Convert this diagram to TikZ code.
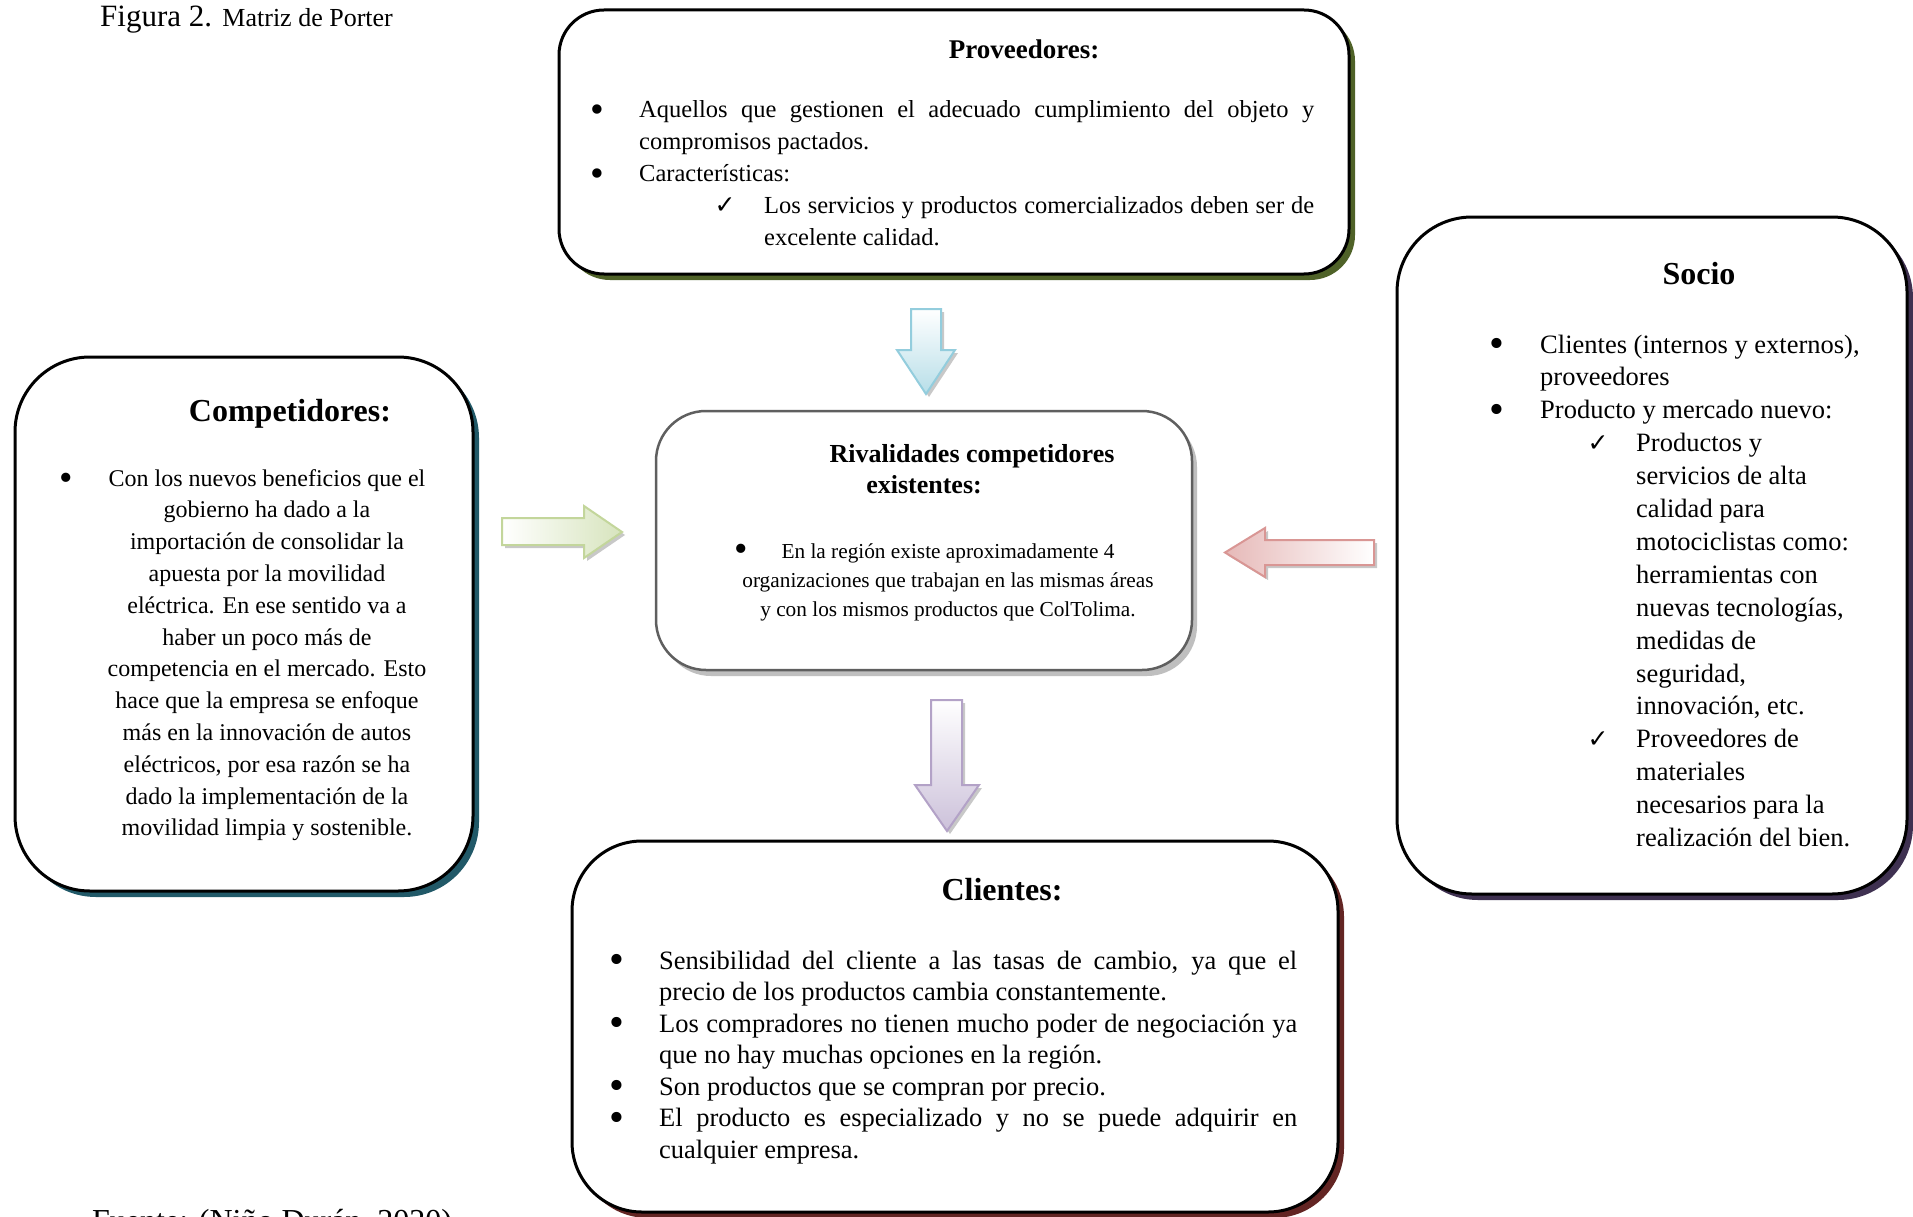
\documentclass[tikz,border=0pt]{standalone}
\usepackage{fontspec}
\setmainfont{Liberation Serif}
\newfontfamily\symfont{DejaVu Sans}
\usetikzlibrary{shadows}
\definecolor{shProv}{HTML}{4F6228}
\definecolor{shComp}{HTML}{215968}
\definecolor{shSocio}{HTML}{3F3151}
\definecolor{shRiv}{HTML}{BFBFBF}
\definecolor{shCli}{HTML}{632523}
\definecolor{bdRiv}{HTML}{5F5F5F}
\definecolor{arBlueL}{HTML}{93CDDD}
\definecolor{arBlueF}{HTML}{B7DEE8}
\definecolor{arGreenL}{HTML}{C3D69B}
\definecolor{arGreenF}{HTML}{D7E4BD}
\definecolor{arRedL}{HTML}{D99694}
\definecolor{arRedF}{HTML}{E6B9B8}
\definecolor{arPurpL}{HTML}{B3A2C7}
\definecolor{arPurpF}{HTML}{CCC1DA}
\definecolor{arSh}{HTML}{C8C8C8}
\newcommand\bigbul{\raisebox{-0.17em}{\scalebox{1.6}{\textbullet}}}
\newcommand\bl[1]{\leavevmode\llap{\makebox[0pt]{\smash{\bigbul}}\hspace{#1}}}
\newcommand\ck[1]{\leavevmode\llap{\makebox[0pt]{\symfont\fontsize{25pt}{25pt}\selectfont ✓}\hspace{#1}}}
\newcommand\jl[2]{\makebox[#1][s]{#2}}
\tikzset{
  outerbox/.style={draw=black, line width=3pt, fill=white, inner sep=0pt},
  shad/.style={general shadow={fill=#1, shadow xshift=6pt, shadow yshift=-6pt}},
  txt/.style={inner sep=0pt},
  arline/.style={line width=2pt},
}
\begin{document}
\begin{tikzpicture}[x=1pt,y=-1pt]
\useasboundingbox (0,0) rectangle (1913,1217);
\fill[white] (0,0) rectangle (1913,1217);

% caption
\node[txt, anchor=base west] (cap) at (100,27) {{\fontsize{31pt}{31pt}\selectfont Figura 2. }{\fontsize{26pt}{26pt}\selectfont Matriz de Porter}};

% boxes
\node[outerbox, shad=shProv, rounded corners=45pt, minimum width=790pt, minimum height=264pt] (prov) at (954,142) {};
\node[outerbox, shad=shComp, rounded corners=75pt, minimum width=458pt, minimum height=534pt] (comp) at (244,624) {};
\node[outerbox, shad=shSocio, rounded corners=75pt, minimum width=510pt, minimum height=677pt] (socio) at (1652,555.5) {};
\node[outerbox, draw=bdRiv, line width=2.5pt, general shadow={fill=shRiv, shadow xshift=5pt, shadow yshift=-6pt}, rounded corners=50pt, minimum width=536pt, minimum height=259pt] (riv) at (924,540.5) {};
\node[outerbox, shad=shCli, rounded corners=70pt, minimum width=766pt, minimum height=371pt] (cli) at (955,1026.5) {};

% arrows: shadows
\fill[arSh, shift={(3,3)}] (911,309) -- (941,309) -- (941,350) -- (955,350) -- (926,394) -- (897,350) -- (911,350) -- cycle;
\fill[arSh, shift={(3,3)}] (502,518) -- (584,518) -- (584,506) -- (622,532) -- (584,558) -- (584,545) -- (502,545) -- cycle;
\fill[arSh, shift={(3,3)}] (1374,540) -- (1265,540) -- (1265,528) -- (1225,552.5) -- (1265,577) -- (1265,565) -- (1374,565) -- cycle;
\fill[arSh, shift={(3,3)}] (931,700) -- (962,700) -- (962,785) -- (979,785) -- (947,831) -- (915,785) -- (931,785) -- cycle;
% arrows
\draw[arline, draw=arBlueL, top color=white, bottom color=arBlueF] (911,309) -- (941,309) -- (941,350) -- (955,350) -- (926,394) -- (897,350) -- (911,350) -- cycle;
\draw[arline, draw=arGreenL, left color=white, right color=arGreenF] (502,518) -- (584,518) -- (584,506) -- (622,532) -- (584,558) -- (584,545) -- (502,545) -- cycle;
\draw[arline, draw=arRedL, left color=arRedF, right color=white] (1374,540) -- (1265,540) -- (1265,528) -- (1225,552.5) -- (1265,577) -- (1265,565) -- (1374,565) -- cycle;
\draw[arline, draw=arPurpL, top color=white, bottom color=arPurpF] (931,700) -- (962,700) -- (962,785) -- (979,785) -- (947,831) -- (915,785) -- (931,785) -- cycle;

% Proveedores
\node[txt, anchor=base] (provtit) at (1024,59) {\fontsize{27pt}{27pt}\selectfont\bfseries Proveedores:};
\node[txt, anchor=base west] (provtxt) at (639,118) {\parbox[t]{675pt}{\fontsize{24.5pt}{32pt}\selectfont
\bl{42pt}\jl{675pt}{Aquellos que gestionen el adecuado cumplimiento del objeto y}\\
compromisos pactados.\\
\bl{42pt}Características:\\
\hspace*{125pt}\ck{39pt}\jl{550pt}{Los servicios y productos comercializados deben ser de}\\
\hspace*{125pt}excelente calidad.}};

% Competidores
\node[txt, anchor=base] (comptit) at (290,421) {\fontsize{32pt}{32pt}\selectfont\bfseries Competidores:};
\node[txt, anchor=base] (compbul) at (66,486) {\fontsize{24pt}{24pt}\selectfont\smash{\bigbul}};
\node[txt, anchor=base] (comptxt) at (267,486) {\parbox[t]{430pt}{\centering\fontsize{24pt}{31.8pt}\selectfont
Con los nuevos beneficios que el\\
gobierno ha dado a la\\
importación de consolidar la\\
apuesta por la movilidad\\
eléctrica. En ese sentido va a\\
haber un poco más de\\
competencia en el mercado. Esto\\
hace que la empresa se enfoque\\
más en la innovación de autos\\
eléctricos, por esa razón se ha\\
dado la implementación de la\\
movilidad limpia y sostenible.}};

% Socio
\node[txt, anchor=base] (sociotit) at (1699,284) {\fontsize{32pt}{32pt}\selectfont\bfseries Socio};
\node[txt, anchor=base west] (sociotxt) at (1540,353) {\parbox[t]{350pt}{\fontsize{26.5pt}{32.9pt}\selectfont
\bl{43pt}Clientes (internos y externos),\\
proveedores\\
\bl{43pt}Producto y mercado nuevo:\\
\hspace*{96pt}\ck{38pt}Productos y\\
\hspace*{96pt}servicios de alta\\
\hspace*{96pt}calidad para\\
\hspace*{96pt}motociclistas como:\\
\hspace*{96pt}herramientas con\\
\hspace*{96pt}nuevas tecnologías,\\
\hspace*{96pt}medidas de\\
\hspace*{96pt}seguridad,\\
\hspace*{96pt}innovación, etc.\\
\hspace*{96pt}\ck{38pt}Proveedores de\\
\hspace*{96pt}materiales\\
\hspace*{96pt}necesarios para la\\
\hspace*{96pt}realización del bien.}};

% Rivalidades
\node[txt, anchor=base] (rivtit1) at (972,462) {\fontsize{26pt}{26pt}\selectfont\bfseries Rivalidades competidores};
\node[txt, anchor=base] (rivtit2) at (924,493) {\fontsize{26pt}{26pt}\selectfont\bfseries existentes:};
\node[txt, anchor=base] (rivbul) at (741,557) {\fontsize{24pt}{24pt}\selectfont\smash{\bigbul}};
\node[txt, anchor=base] (rivtxt) at (948,558) {\parbox[t]{440pt}{\centering\fontsize{21.3pt}{29pt}\selectfont
En la región existe aproximadamente 4\\
organizaciones que trabajan en las mismas áreas\\
y con los mismos productos que ColTolima.}};

% Clientes
\node[txt, anchor=base] (clitit) at (1002,900) {\fontsize{32pt}{32pt}\selectfont\bfseries Clientes:};
\node[txt, anchor=base west] (clitxt) at (659,969) {\parbox[t]{638pt}{\fontsize{26.5pt}{31.5pt}\selectfont
\bl{42pt}\jl{638pt}{Sensibilidad del cliente a las tasas de cambio, ya que el}\\
precio de los productos cambia constantemente.\\
\bl{42pt}\jl{638pt}{Los compradores no tienen mucho poder de negociación ya}\\
que no hay muchas opciones en la región.\\
\bl{42pt}Son productos que se compran por precio.\\
\bl{42pt}\jl{638pt}{El producto es especializado y no se puede adquirir en}\\
cualquier empresa.}};

% source (cut at bottom edge, as in the reference)
\node[txt, anchor=base west] (fuente) at (92,1231) {\fontsize{32pt}{32pt}\selectfont Fuente: (Niño Durán, 2020)};
\end{tikzpicture}
\end{document}
